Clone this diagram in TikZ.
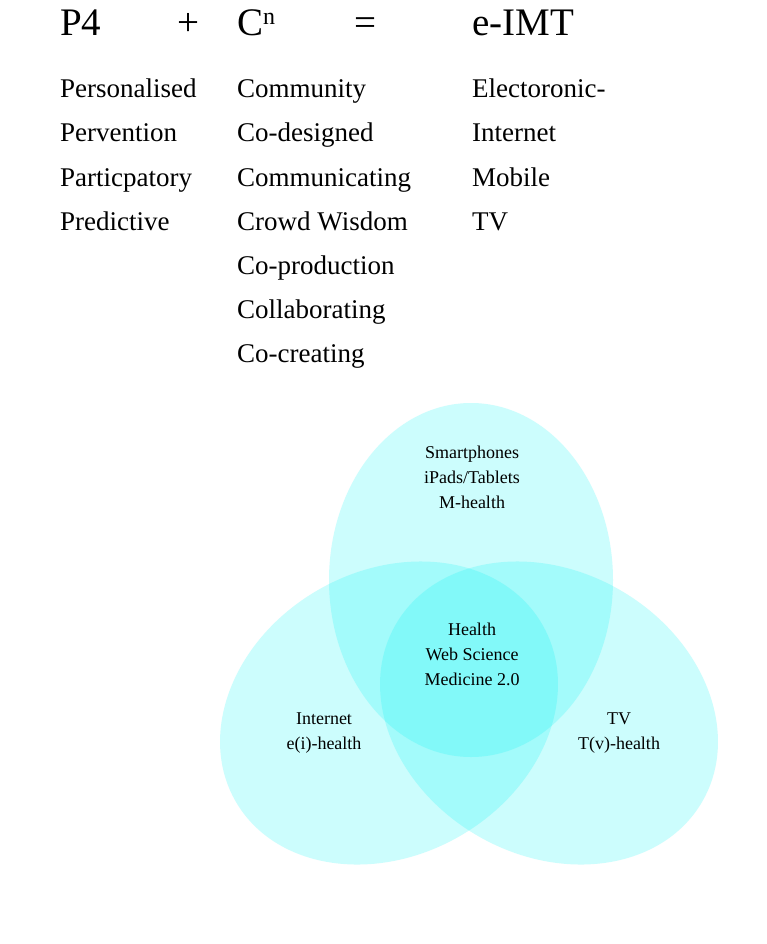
\documentclass[tikz,border=0pt]{standalone}
\usepackage{fontspec}
\setmainfont{Liberation Serif}
\definecolor{venncyan}{RGB}{0,245,245}
\begin{document}
\begin{tikzpicture}[x=1pt,y=-1pt,
  txt/.style={inner sep=0pt, anchor=base west, font=\fontsize{27}{30}\selectfont},
  head/.style={inner sep=0pt, anchor=base west, font=\fontsize{39}{40}\selectfont},
  sym/.style={inner sep=0pt, anchor=base, font=\fontsize{39}{40}\selectfont},
  vlab/.style={inner sep=0pt, align=center, anchor=base, font=\fontsize{18}{25}\selectfont},
  blob/.style={fill=venncyan, fill opacity=0.2, draw=none}]
\useasboundingbox (0,0) rectangle (767,944);
\fill[white] (0,0) rectangle (767,944);
% header
\node[head] (p4) at (60,36) {P4};
\node[sym] (plus) at (188,36) {+};
\node[head] (cn) at (237,36) {C\raisebox{11pt}{\fontsize{24}{24}\selectfont n}};
\node[sym] (eq) at (365,36) {=};
\node[head] (eimt) at (472,36) {e-IMT};
% column 1
\node[txt] (c1a) at (60,98) {Personalised};
\node[txt] (c1b) at (60,142) {Pervention};
\node[txt] (c1c) at (60,186) {Particpatory};
\node[txt] (c1d) at (60,230) {Predictive};
% column 2
\node[txt] (c2a) at (237,98) {Community};
\node[txt] (c2b) at (237,142) {Co-designed};
\node[txt] (c2c) at (237,186) {Communicating};
\node[txt] (c2d) at (237,230) {Crowd Wisdom};
\node[txt] (c2e) at (237,274) {Co-production};
\node[txt] (c2f) at (237,318) {Collaborating};
\node[txt] (c2g) at (237,362) {Co-creating};
% column 3
\node[txt] (c3a) at (472,98) {Electoronic-};
\node[txt] (c3b) at (472,142) {Internet};
\node[txt] (c3c) at (472,186) {Mobile};
\node[txt] (c3d) at (472,230) {TV};
% venn
\fill[blob] (471,580) ellipse [x radius=142, y radius=177];
\fill[blob, rotate around={30:(389,713)}] (389,713) ellipse [x radius=177, y radius=142];
\fill[blob, rotate around={-30:(549,713)}] (549,713) ellipse [x radius=177, y radius=142];
\node[vlab] (mob) at (472,508) {Smartphones\\iPads/Tablets\\M-health};
\node[vlab] (ctr) at (472,685) {Health\\Web Science\\Medicine 2.0};
\node[vlab] (inet) at (324,749) {Internet\\e(i)-health};
\node[vlab] (tv) at (619,749) {TV\\T(v)-health};
\end{tikzpicture}
\end{document}
